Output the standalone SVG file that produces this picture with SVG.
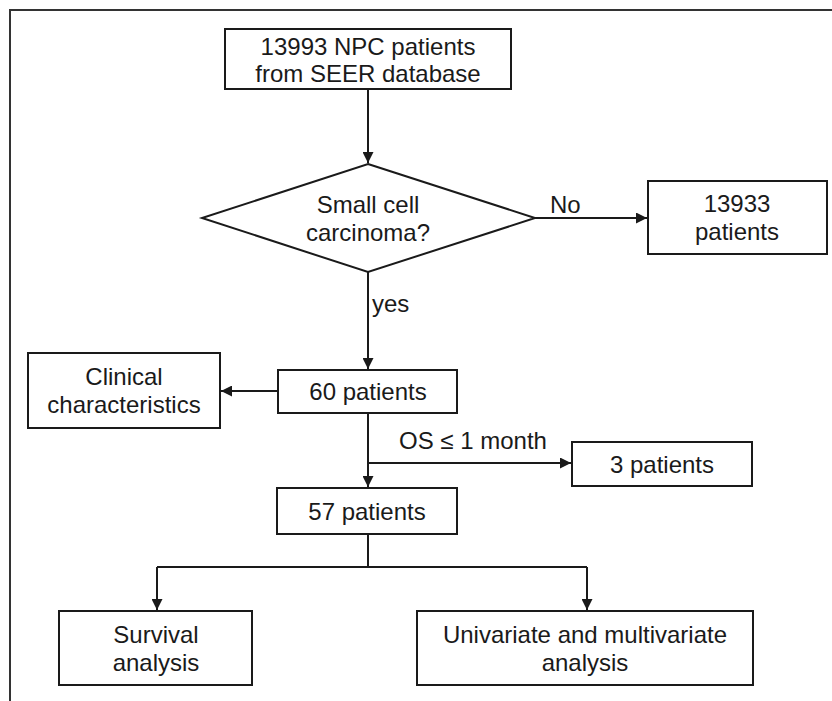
<svg xmlns="http://www.w3.org/2000/svg" width="832" height="701" viewBox="0 0 832 701">
<style>
.box{fill:#fff;stroke:#1a1a1a;stroke-width:2}
.t{font-family:"Liberation Sans",Arial,sans-serif;font-size:24px;fill:#1a1a1a;text-anchor:middle}
.l{font-family:"Liberation Sans",Arial,sans-serif;font-size:24px;fill:#1a1a1a}
.c{fill:none;stroke:#1a1a1a;stroke-width:2}
</style>
<defs>
<marker id="ah" viewBox="0 0 10 10" refX="10" refY="5" markerWidth="6" markerHeight="5.5" markerUnits="strokeWidth" orient="auto">
<path d="M0,0 L10,5 L0,10 z" fill="#1a1a1a"/>
</marker>
</defs>
<rect width="832" height="701" fill="#fff"/>
<path d="M10,701 V10 H832" fill="none" stroke="#333" stroke-width="2"/>
<g id="connectors">
<path class="c" d="M368,89 V163" marker-end="url(#ah)"/>
<path class="c" d="M535,218 H647" marker-end="url(#ah)"/>
<path class="c" d="M368,272 V369" marker-end="url(#ah)"/>
<path class="c" d="M278,391 H221" marker-end="url(#ah)"/>
<path class="c" d="M368,413 V487" marker-end="url(#ah)"/>
<path class="c" d="M368,463 H571" marker-end="url(#ah)"/>
<path class="c" d="M368,534 V567"/>
<path class="c" d="M157,567 H587"/>
<path class="c" d="M157,567 V610" marker-end="url(#ah)"/>
<path class="c" d="M587,567 V610" marker-end="url(#ah)"/>
<text class="l" x="550" y="213">No</text>
<text class="l" x="372" y="312">yes</text>
<text class="l" x="399" y="449">OS ≤ 1 month</text>
</g>
<g id="n-seer">
<rect class="box" x="225" y="29" width="286" height="60"/>
<text class="t" x="368" y="55">13993 NPC patients</text>
<text class="t" x="368" y="82">from SEER database</text>
</g>
<g id="n-decision">
<polygon class="box" points="368,164 535,218 368,272 202,218"/>
<text class="t" x="368" y="213">Small cell</text>
<text class="t" x="368" y="241">carcinoma?</text>
</g>
<g id="n-13933">
<rect class="box" x="648" y="181" width="179" height="73"/>
<text class="t" x="737" y="212">13933</text>
<text class="t" x="737" y="240">patients</text>
</g>
<g id="n-60">
<rect class="box" x="278" y="370" width="179" height="43"/>
<text class="t" x="368" y="400">60 patients</text>
</g>
<g id="n-clinical">
<rect class="box" x="28" y="353" width="192" height="75"/>
<text class="t" x="124" y="385">Clinical</text>
<text class="t" x="124" y="413">characteristics</text>
</g>
<g id="n-3">
<rect class="box" x="572" y="442" width="180" height="44"/>
<text class="t" x="662" y="473">3 patients</text>
</g>
<g id="n-57">
<rect class="box" x="277" y="488" width="180" height="46"/>
<text class="t" x="367" y="520">57 patients</text>
</g>
<g id="n-survival">
<rect class="box" x="59" y="611" width="193" height="74"/>
<text class="t" x="156" y="643">Survival</text>
<text class="t" x="156" y="671">analysis</text>
</g>
<g id="n-uni">
<rect class="box" x="417" y="611" width="336" height="74"/>
<text class="t" x="585" y="643">Univariate and multivariate</text>
<text class="t" x="585" y="671">analysis</text>
</g>
</svg>
